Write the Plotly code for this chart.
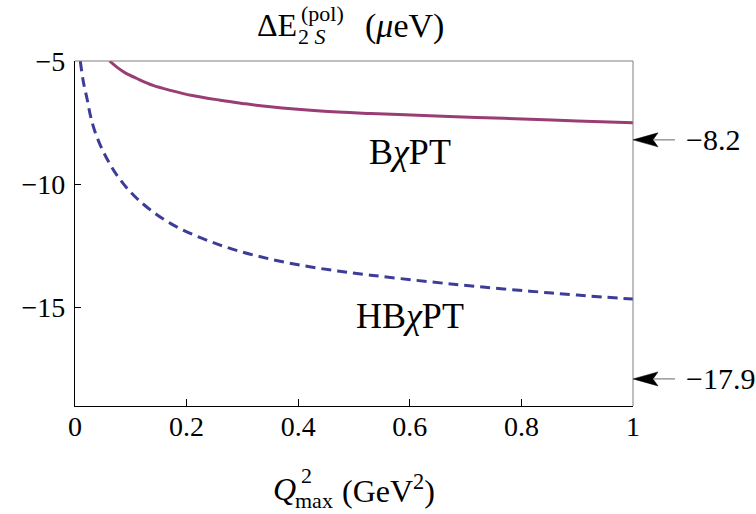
import plotly.graph_objects as go

# ---- data ----
bchpt_x = [0.062, 0.075, 0.09, 0.111, 0.14, 0.171, 0.21, 0.26, 0.30, 0.35, 0.44, 0.53, 0.636, 0.72, 0.815, 0.90, 1.0]
bchpt_y = [-5.0, -5.25, -5.48, -5.71, -5.99, -6.19, -6.40, -6.59, -6.72, -6.86, -7.03, -7.13, -7.22, -7.29, -7.36, -7.43, -7.51]

hb_x = [0.0095, 0.015, 0.0215, 0.028, 0.036, 0.051, 0.075, 0.111, 0.171, 0.26, 0.35, 0.44, 0.53, 0.636, 0.72, 0.815, 0.90, 1.0]
hb_y = [-5.0, -5.85, -6.52, -7.25, -7.88, -8.69, -9.63, -10.58, -11.59, -12.47, -13.04, -13.42, -13.69, -13.96, -14.15, -14.34, -14.50, -14.66]

x_ticks = [0, 0.2, 0.4, 0.6, 0.8, 1]
x_ticklabels = ["0", "0.2", "0.4", "0.6", "0.8", "1"]
y_ticks = [-5, -10, -15]
y_range = [-19, -5]

limit_values = [-8.2, -17.9]
limit_labels = ["\u22128.2", "\u221217.9"]

# ---- layout geometry (page pixels) ----
W, H = 756, 514
L, R, T, B = 74.7, 633.3, 60.7, 405.7
FONT = "Liberation Serif"


def px(X):
    return (X - L) / (R - L)


def py(Y):
    return (B - Y) / (B - T)


def yval_to_paper(v):
    return (v - y_range[0]) / (y_range[1] - y_range[0])


fig = go.Figure()
fig.add_trace(go.Scatter(x=hb_x, y=hb_y, mode="lines", line_shape="spline",
                         line=dict(color="#3D3D99", width=3, dash="10px,6px"),
                         showlegend=False, hoverinfo="skip"))
fig.add_trace(go.Scatter(x=bchpt_x, y=bchpt_y, mode="lines", line_shape="spline",
                         line=dict(color="#993D74", width=3),
                         showlegend=False, hoverinfo="skip"))

annotations = []
lab_font = dict(family=FONT, size=36, color="black")
annotations.append(dict(x=0.600, y=-8.70, xref="x", yref="y", text="B<i>χ</i>PT",
                        showarrow=False, font=lab_font))
annotations.append(dict(x=0.600, y=-15.35, xref="x", yref="y", text="HB<i>χ</i>PT",
                        showarrow=False, font=lab_font))

shapes = [
    dict(type="line", xref="paper", yref="paper", x0=0, x1=1, y0=1, y1=1,
         line=dict(color="#808080", width=1)),
    dict(type="line", xref="paper", yref="paper", x0=1, x1=1, y0=0, y1=1,
         line=dict(color="#808080", width=1)),
]

# limit arrows (stealth head in pixel units anchored at the right frame, gray tail)
for v, lab in zip(limit_values, limit_labels):
    yp = yval_to_paper(v)
    shapes.append(dict(type="path", xref="paper", yref="paper", xsizemode="pixel", ysizemode="pixel",
                       xanchor=1, yanchor=yp, path="M0,0 L25,7 L20,0 L25,-7 Z",
                       fillcolor="black", line=dict(color="black", width=0.5)))
    shapes.append(dict(type="line", xref="paper", yref="paper", xsizemode="pixel", ysizemode="pixel",
                       xanchor=1, yanchor=yp, x0=20, x1=42, y0=0, y1=0,
                       line=dict(color="#808080", width=1.2)))
    annotations.append(dict(x=px(684), y=v, xref="paper", yref="y", text=lab, xanchor="left",
                            showarrow=False, font=dict(family=FONT, size=30, color="black")))

# y-axis title (top)
tf = dict(family=FONT, size=32, color="black")
tf2 = dict(family=FONT, size=34, color="black")
sf = dict(family=FONT, size=22, color="black")
annotations.append(dict(x=px(276.5), y=py(25), xref="paper", yref="paper", text="ΔE",
                        xanchor="center", yanchor="middle", showarrow=False, font=tf, borderpad=0))
annotations.append(dict(x=px(322.5), y=py(13), xref="paper", yref="paper", text="(pol)",
                        xanchor="center", yanchor="middle", showarrow=False, font=sf, borderpad=0))
annotations.append(dict(x=px(312), y=py(36), xref="paper", yref="paper", text="2 <i>S</i>",
                        xanchor="center", yanchor="middle", showarrow=False, font=sf, borderpad=0))
annotations.append(dict(x=px(405), y=py(26), xref="paper", yref="paper", text="(<i>μ</i>eV)",
                        xanchor="center", yanchor="middle", showarrow=False, font=tf2, borderpad=0))

# x-axis title (bottom)
annotations.append(dict(x=px(284), y=py(489), xref="paper", yref="paper", text="<i>Q</i>",
                        xanchor="center", yanchor="middle", showarrow=False, font=tf, borderpad=0))
annotations.append(dict(x=px(306), y=py(475), xref="paper", yref="paper", text="2",
                        xanchor="center", yanchor="middle", showarrow=False, font=sf, borderpad=0))
annotations.append(dict(x=px(314), y=py(500), xref="paper", yref="paper", text="max",
                        xanchor="center", yanchor="middle", showarrow=False, font=sf, borderpad=0))
annotations.append(dict(x=px(389), y=py(489), xref="paper", yref="paper", text="(GeV<sup>2</sup>)",
                        xanchor="center", yanchor="middle", showarrow=False, font=tf, borderpad=0))

fig.update_layout(
    width=W, height=H,
    margin=dict(l=L, r=W - R, t=T, b=H - B, pad=0),
    paper_bgcolor="white", plot_bgcolor="white",
    showlegend=False,
    annotations=annotations,
    shapes=shapes,
    font=dict(family=FONT, size=28, color="black"),
    xaxis=dict(range=[0, 1], tickvals=x_ticks, ticktext=x_ticklabels, ticks="inside",
               ticklen=7, tickwidth=1, tickcolor="black", showline=True, linecolor="black",
               linewidth=1.3, showgrid=False, zeroline=False, ticklabelstandoff=-5,
               tickfont=dict(family=FONT, size=28, color="black")),
    yaxis=dict(range=y_range, tickvals=y_ticks, ticks="inside", ticklen=6, tickwidth=1,
               tickcolor="black", showline=True, linecolor="black", linewidth=1.3,
               showgrid=False, zeroline=False, ticklabelstandoff=3,
               tickfont=dict(family=FONT, size=28, color="black")),
)

fig.write_html("out.html", config={"displayModeBar": False},
               post_script="document.body.style.margin='0px';")
